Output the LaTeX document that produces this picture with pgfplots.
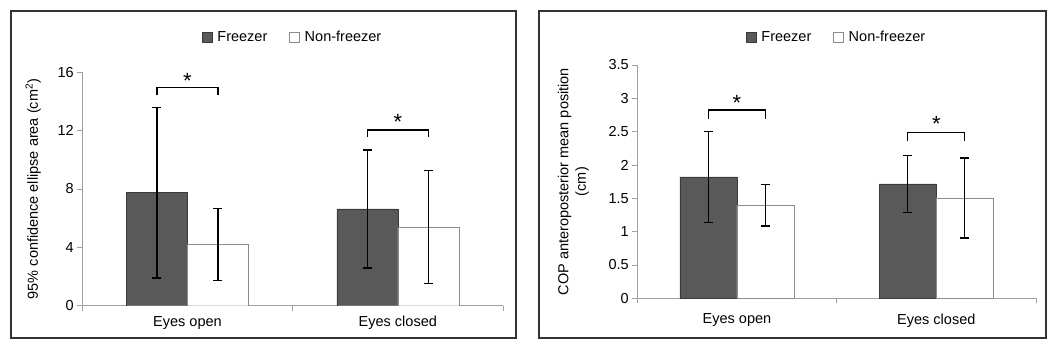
\documentclass[border=0pt]{standalone}
\usepackage{pgfplots}
\pgfplotsset{compat=1.18}
\usepackage{fontspec}
\setmainfont{Liberation Sans}
\definecolor{frz}{HTML}{595959}
\definecolor{frzd}{HTML}{3A3A3A}
\definecolor{nfd}{HTML}{8C8C8C}
\definecolor{axc}{HTML}{A0A0A0}
\definecolor{framec}{HTML}{333333}
\newcommand\fs{\fontsize{14.5bp}{17.5bp}\selectfont}
\newcommand\astfont{\fontsize{22bp}{22bp}\selectfont}
\pgfplotsset{
 sqlegend/.style={legend image code/.code={\draw[##1] (0bp,-5bp) rectangle (10bp,5bp); \path (13bp,0bp);}},
 mystyle/.style={
  scale only axis, anchor=south west,
  axis x line*=bottom, axis y line*=left,
  axis line style={axc, line width=0.8bp},
  xmin=-0.5,xmax=1.5, ymin=0,
  ybar=0pt,
  xtick={-0.5,0.5,1.5}, xticklabels={},
  extra x ticks={0,1}, extra x tick labels={Eyes open, Eyes closed},
  extra x tick style={major tick length=0pt, xticklabel style={yshift=-7bp}},
  tick align=outside, ytick pos=left, xtick pos=bottom,
  tick style={axc, line width=0.8bp}, major tick length=5bp,
  tick label style={font=\fs}, label style={font=\fs},
  /pgf/number format/assume math mode=true,
  legend style={draw=none, fill=none, font=\fs, legend columns=2,
     /tikz/every even column/.append style={column sep=20bp}},
  error bars/y dir=both, error bars/y explicit,
  error bars/error bar style={black, line width=1.3bp},
  error bars/error mark options={black, line width=1.3bp, mark size=4.5bp, rotate=90},
 }
}
\begin{document}
\begin{tikzpicture}
\useasboundingbox (0,0) rectangle (1059bp,349bp);
\draw[framec, line width=1.5bp] (11bp,11bp) rectangle (516bp,338bp);
\draw[framec, line width=1.5bp] (539bp,11bp) rectangle (1046bp,338bp);

% Left panel
\begin{axis}[mystyle,
  at={(82.3bp,43.3bp)}, width=420.7bp, height=233.4bp,
  ymax=16, ytick={0,4,8,12,16},
  ylabel={95\% confidence ellipse area (cm\textsuperscript{2})},
  ylabel style={at={(axis description cs:-0.1165,0.5)}, anchor=center},
  legend style={at={(axis description cs:0.5,1)}, anchor=center, yshift=35bp},
]
\addplot[fill=frz, draw=frzd, bar width=61bp, bar shift=-30.5bp, sqlegend]
 coordinates {(0,7.75) +- (0,5.85) (1,6.63) +- (0,4.05)};
\addplot[fill=white, draw=nfd, bar width=61bp, bar shift=30.5bp, sqlegend]
 coordinates {(0,4.2) +- (0,2.47) (1,5.39) +- (0,3.88)};
\legend{Freezer, Non-freezer}
\draw[line width=1.3bp] ([xshift=-30.5bp]axis cs:0,14.46) |- ([xshift=30.5bp]axis cs:0,14.95) -- ([xshift=30.5bp]axis cs:0,14.46);
\node[font=\astfont, inner sep=0, anchor=base, yshift=-12bp] at (axis cs:0,15.7) {*};
\draw[line width=1.3bp] ([xshift=-30.5bp]axis cs:1,11.55) |- ([xshift=30.5bp]axis cs:1,12.04) -- ([xshift=30.5bp]axis cs:1,11.55);
\node[font=\astfont, inner sep=0, anchor=base, yshift=-12bp] at (axis cs:1,12.9) {*};
\end{axis}

% Right panel
\begin{axis}[mystyle,
  at={(637.3bp,50.7bp)}, width=398.7bp, height=233.3bp,
  ymax=3.5, ytick={0,0.5,1,1.5,2,2.5,3,3.5},
  yticklabels={0,0.5,1,1.5,2,2.5,3,3.5},
  ylabel={COP anteroposterior mean position\\(cm)},
  ylabel style={at={(axis description cs:-0.1605,0.5)}, anchor=center, align=center},
  legend style={at={(axis description cs:0.5,1)}, anchor=center, yshift=28bp},
  extra x tick style={major tick length=0pt, xticklabel style={yshift=-5bp}},
]
\addplot[fill=frz, draw=frzd, bar width=57bp, bar shift=-28.5bp, sqlegend]
 coordinates {(0,1.82) +- (0,0.68) (1,1.715) +- (0,0.43)};
\addplot[fill=white, draw=nfd, bar width=57bp, bar shift=28.5bp, sqlegend]
 coordinates {(0,1.395) +- (0,0.31) (1,1.505) +- (0,0.60)};
\legend{Freezer, Non-freezer}
\draw[line width=1.3bp] ([xshift=-28.5bp]axis cs:0,2.69) |- ([xshift=28.5bp]axis cs:0,2.825) -- ([xshift=28.5bp]axis cs:0,2.69);
\node[font=\astfont, inner sep=0, anchor=base, yshift=-12bp] at (axis cs:0,3.0) {*};
\draw[line width=1.3bp] ([xshift=-28.5bp]axis cs:1,2.355) |- ([xshift=28.5bp]axis cs:1,2.49) -- ([xshift=28.5bp]axis cs:1,2.355);
\node[font=\astfont, inner sep=0, anchor=base, yshift=-12bp] at (axis cs:1,2.675) {*};
\end{axis}
\end{tikzpicture}
\end{document}
